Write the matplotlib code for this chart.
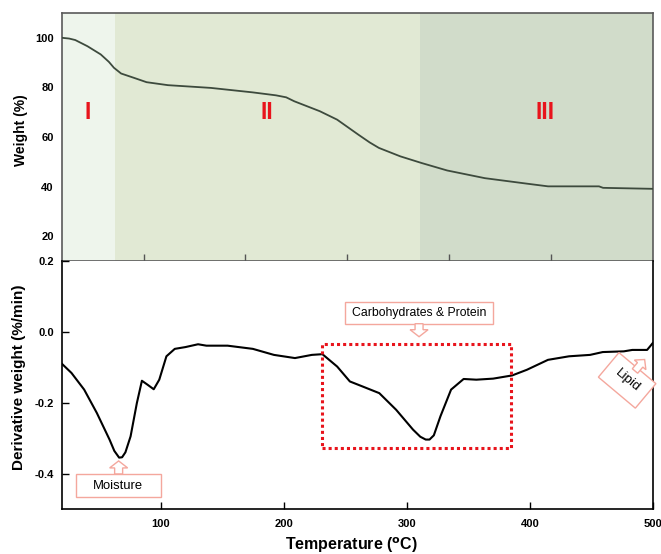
import matplotlib
matplotlib.use("Agg")
import numpy as np
import matplotlib.pyplot as plt
from matplotlib.patches import Rectangle, Polygon

# ---------------- data ----------------
tga_temp = [20, 27, 33, 45, 58, 66, 71, 78, 91, 103, 124, 166, 207, 230, 240, 248,
            273, 290, 311, 322, 331, 352, 373, 398, 435, 476, 497, 547, 551, 600]
tga_weight = [100, 99.7, 99.1, 96.6, 93.3, 90.3, 87.9, 85.6, 83.8, 82.1, 80.9, 79.8,
              78.0, 76.8, 76.0, 74.4, 70.4, 67.0, 60.9, 57.8, 55.6, 52.2, 49.5, 46.5,
              43.4, 41.2, 40.1, 40.1, 39.5, 39.1]

dtg_temp = [20.2, 27.7, 38, 48.3, 58.6, 62.5, 66.4, 68.8, 71.5, 75.7, 80.8, 84.9, 89.4,
            94.5, 99, 104.8, 111.6, 120.2, 130.5, 137.3, 154.5, 175, 192.1, 209.2,
            222.9, 231.5, 243.5, 253.8, 264, 277.7, 291.4, 305.1, 311, 315.4, 318.5,
            322, 327.4, 336, 346.2, 356.5, 370.2, 385.6, 397.6, 414.7, 431.8, 448.9,
            459.2, 476.3, 483.2, 495.2, 497.6, 499.7]
dtg_value = [-0.091, -0.116, -0.163, -0.229, -0.304, -0.336, -0.355, -0.354, -0.340,
             -0.295, -0.201, -0.138, -0.149, -0.162, -0.135, -0.069, -0.048, -0.043,
             -0.035, -0.039, -0.039, -0.048, -0.065, -0.074, -0.065, -0.063, -0.098,
             -0.140, -0.154, -0.173, -0.220, -0.276, -0.296, -0.304, -0.304, -0.292,
             -0.238, -0.163, -0.133, -0.135, -0.132, -0.123, -0.107, -0.079, -0.069,
             -0.065, -0.057, -0.055, -0.051, -0.051, -0.041, -0.032]

region_edges = [20, 72, 371, 600]
region_labels = ["I", "II", "III"]
region_label_x = [45, 221, 494]
region_colors = ["#eef5ec", "#e1e9d4", "#d1dcca"]

top_yticks = [20, 40, 60, 80, 100]
top_xticks = [100, 200, 300, 400, 500]
bot_xticks = [100, 200, 300, 400, 500]
bot_yticks = [0.2, 0.0, -0.2, -0.4]
bot_yticklabels = ["0.2", "0.0", "-0.2", "-0.4"]

salmon = "#f4a79d"
sans = ["Liberation Sans", "DejaVu Sans"]

fig = plt.figure(figsize=(6.61, 5.54), dpi=100)
W, H = 661, 554

ax1 = fig.add_axes([62 / W, 1 - 261 / H, 591 / W, 248 / H])
ax2 = fig.add_axes([62 / W, 1 - 509 / H, 591 / W, 248 / H])

# ---------------- top panel ----------------
for i in range(3):
    ax1.axvspan(region_edges[i], region_edges[i + 1], color=region_colors[i], lw=0, zorder=0)
    ax1.text(region_label_x[i], 70, region_labels[i], color="#e8141c", fontsize=16.5,
             fontweight="bold", ha="center", va="center", family=sans)
ax1.plot(tga_temp, tga_weight, color="#3d4a3d", lw=1.3, zorder=3)
ax1.set_xlim(20, 600)
ax1.set_ylim(10, 110)
ax1.set_xticks(top_xticks)
ax1.set_yticks(top_yticks)
ax1.tick_params(axis="x", direction="in", length=5, width=1, color="#555555",
                labelbottom=False)
ax1.tick_params(axis="y", length=0, pad=6)
for lab in ax1.get_yticklabels():
    lab.set_fontweight("bold")
    lab.set_fontsize(8)
    lab.set_family(sans)
for sp in ax1.spines.values():
    sp.set_color("#5a5a5a")
    sp.set_linewidth(1.2)

# ---------------- bottom panel ----------------
ax2.plot(dtg_temp, dtg_value, color="black", lw=1.5, zorder=3)
ax2.set_xlim(20, 500)
ax2.set_ylim(-0.5, 0.2)
ax2.set_xticks(bot_xticks)
ax2.set_yticks(bot_yticks)
ax2.set_yticklabels(bot_yticklabels)
ax2.tick_params(axis="both", direction="in", length=5, width=1)
ax2.tick_params(axis="x", pad=7)
ax2.tick_params(axis="y", pad=6)
for lab in ax2.get_xticklabels() + ax2.get_yticklabels():
    lab.set_fontweight("bold")
    lab.set_fontsize(8)
    lab.set_family(sans)
ax2.spines["top"].set_visible(False)
for s in ["left", "bottom", "right"]:
    ax2.spines[s].set_linewidth(1.2)

# dotted highlight box
ax2.add_patch(Rectangle((230.8, -0.328), 385 - 230.8, 0.293, fill=False,
                        ec="#e8141c", lw=2.2, ls=(0, (1, 1)), zorder=4))


def block_arrow(ax, tail_px, angle_deg, length=12, shaft_w=8, head_w=18, head_len=7):
    """Hollow block arrow drawn in pixel space, tail given in display pixels."""
    a = np.deg2rad(angle_deg)
    d = np.array([np.cos(a), np.sin(a)])
    n = np.array([-d[1], d[0]])
    t = np.array(tail_px, dtype=float)
    sl = length - head_len
    pts = [t + n * shaft_w / 2, t + n * shaft_w / 2 + d * sl, t + n * head_w / 2 + d * sl,
           t + d * length, t - n * head_w / 2 + d * sl, t - n * shaft_w / 2 + d * sl,
           t - n * shaft_w / 2]
    pts = ax.transData.inverted().transform(np.array(pts))
    ax.add_patch(Polygon(pts, closed=True, fc="white", ec=salmon, lw=1.0, zorder=6))


# callout boxes
ax2.add_patch(Rectangle((249.7, 0.023), 370.2 - 249.7, 0.062, fill=False,
                        ec=salmon, lw=1.0, zorder=4))
ax2.text(310, 0.054, "Carbohydrates & Protein", ha="center", va="center",
         fontsize=8.8, family=sans, zorder=5)
ax2.add_patch(Rectangle((31.2, -0.467), 100 - 31.2, 0.066, fill=False,
                        ec=salmon, lw=1.0, zorder=4))
ax2.text(65.6, -0.434, "Moisture", ha="center", va="center",
         fontsize=9.4, family=sans, zorder=5)

block_arrow(ax2, ax2.transData.transform((310, 0.023)), -90, length=13)
block_arrow(ax2, ax2.transData.transform((66, -0.401)), 90, length=13)

# Lipid callout (rotated)
ax2.text(479, -0.137, "Lipid", ha="center", va="center", rotation=-40,
         fontsize=9.6, family=sans, rotation_mode="anchor", zorder=5,
         bbox=dict(boxstyle="square,pad=0.75", fc="white", ec=salmon, lw=1.0))
block_arrow(ax2, (635, H - 371), 50, length=15, shaft_w=7, head_w=15, head_len=7)

# ---------------- axis labels ----------------
fig.text(21 / W, 1 - 130 / H, "Weight (%)", rotation=90, ha="center", va="center",
         fontsize=10, fontweight="bold", family=sans)
fig.text(19 / W, 1 - 377 / H, "Derivative weight (%/min)", rotation=90, ha="center",
         va="center", fontsize=11, fontweight="bold", family=sans)
fig.text(352 / W, 1 - 545 / H, "Temperature ($^{\\mathbf{o}}$C)", ha="center",
         va="center", fontsize=11.5, fontweight="bold", family=sans)

fig.savefig("out.png", dpi=100)
